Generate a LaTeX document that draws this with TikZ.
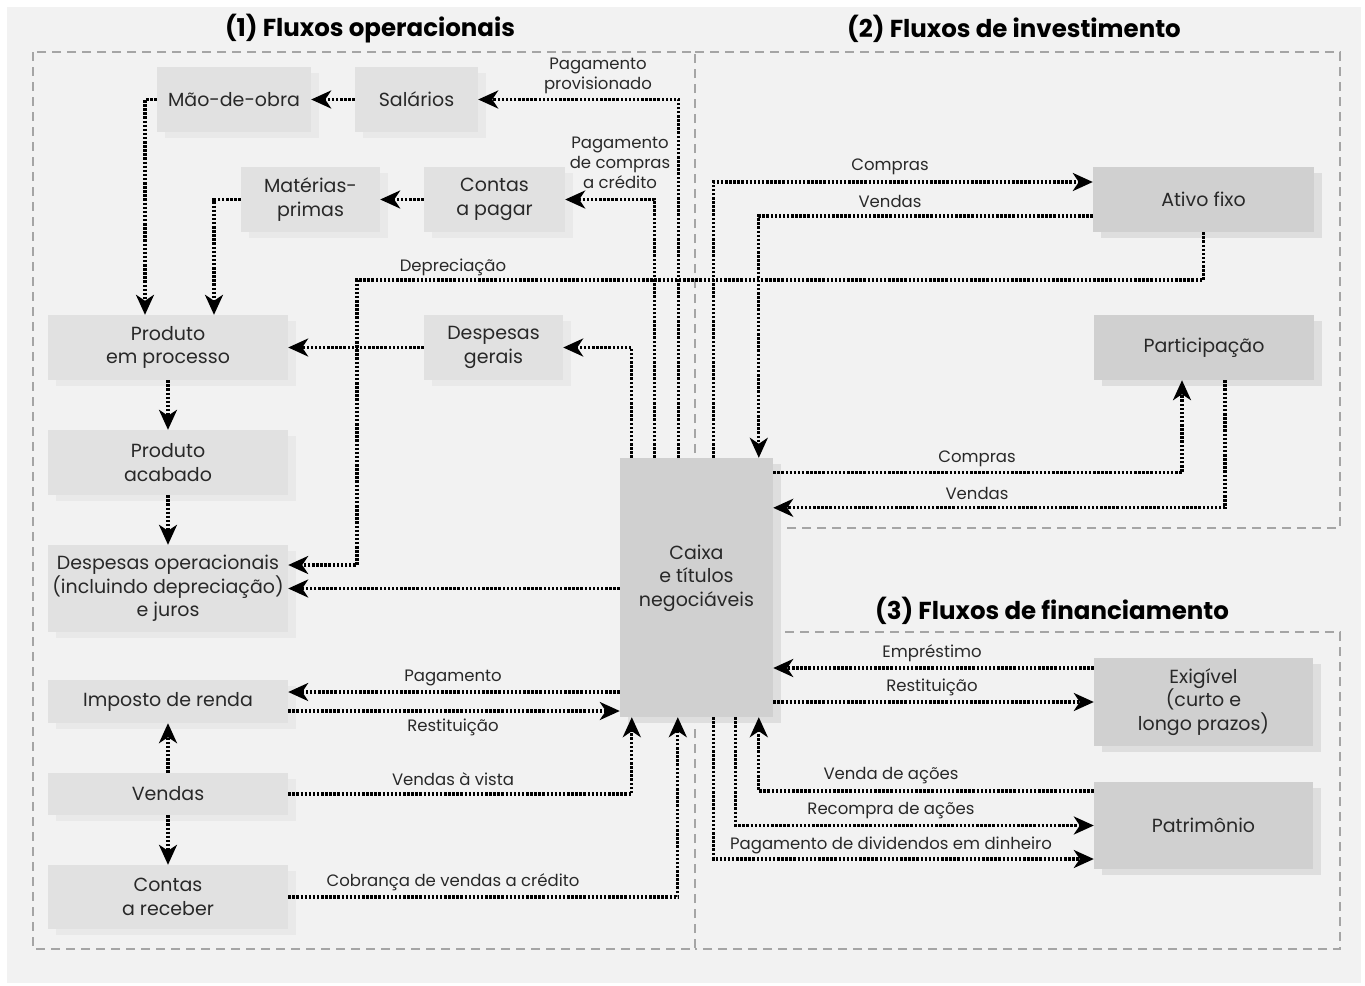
\documentclass[tikz,border=0pt]{standalone}
\usepackage{fontspec}
\setmainfont{Poppins}
\usetikzlibrary{arrows.meta,shadows}

\definecolor{fundo}{RGB}{242,242,242}
\definecolor{cinzaop}{RGB}{225,225,225}
\definecolor{sombraop}{RGB}{233,233,233}
\definecolor{cinzaesc}{RGB}{208,208,208}
\definecolor{sombraesc}{RGB}{222,222,222}
\definecolor{moldura}{RGB}{165,165,165}
\definecolor{texto}{RGB}{40,40,40}

\begin{document}
\begin{tikzpicture}[x=1pt, y=-1pt,
    every node/.style={text=texto, align=center},
    tam/.style 2 args={minimum width=#1pt, minimum height=#2pt},
    bloco/.style={rectangle, fill=cinzaop, inner sep=0pt, font=\fontsize{19}{23.5}\selectfont,
        drop shadow={shadow xshift=8pt, shadow yshift=-6pt, fill=sombraop, opacity=1}},
    blocoesc/.style={rectangle, fill=cinzaesc, inner sep=0pt, font=\fontsize{19}{23.5}\selectfont,
        drop shadow={shadow xshift=8pt, shadow yshift=-6pt, fill=sombraesc, opacity=1}},
    fluxo/.style={draw=black, line width=3.2pt, dash pattern=on 2.5pt off 1.6pt,
        -{Stealth[length=20pt, width=18pt, inset=6pt]}},
    rotulo/.style={font=\fontsize{16.5}{20}\selectfont, inner sep=0pt},
    titulo/.style={font=\bfseries\fontsize{24.5}{28}\selectfont, text=black},
    regiao/.style={draw=moldura, line width=2pt, dash pattern=on 9pt off 6pt}]

    \useasboundingbox (0,0) rectangle (1365,985);
    \fill[fundo] (7,7) rectangle (1361,983);

    % Regioes
    \draw[regiao] (33,52) rectangle (695,949);
    \draw[regiao] (695,52) -- (1340,52) -- (1340,528) -- (695,528);
    \draw[regiao] (695,632) -- (1340,632) -- (1340,949) -- (695,949);

    \node[titulo] (t1) at (370,29) {(1) Fluxos operacionais};
    \node[titulo] (t2) at (1014,29) {(2) Fluxos de investimento};
    \node[titulo] (t3) at (1052,611) {(3) Fluxos de financiamento};

    % Blocos operacionais
    \node[bloco, tam={154}{65}] (mao) at (234,99.5) {Mão-de-obra};
    \node[bloco, tam={123}{65}] (sal) at (416.5,99.5) {Salários};
    \node[bloco, tam={139}{65}] (mat) at (310.5,199.5) {Matérias-\\primas};
    \node[bloco, tam={141}{65}] (cpag) at (494.5,199.5) {Contas\\a pagar};
    \node[bloco, tam={240}{65}] (proc) at (168,347.5) {Produto\\em processo};
    \node[bloco, tam={139}{65}] (dger) at (493.5,347.5) {Despesas\\gerais};
    \node[bloco, tam={240}{65}] (acab) at (168,462.5) {Produto\\acabado};
    \node[bloco, tam={240}{87}] (dop) at (168,588.5) {Despesas operacionais\\(incluindo depreciação)\\e juros};
    \node[bloco, tam={240}{43}] (ir) at (168,701.5) {Imposto de renda};
    \node[bloco, tam={240}{42}] (vend) at (168,794) {Vendas};
    \node[bloco, tam={240}{64}] (crec) at (168,897) {Contas\\a receber};

    % Caixa e blocos de investimento / financiamento
    \node[blocoesc, tam={153}{259}] (caixa) at (696.5,587.5) {};
    \node[inner sep=0pt, font=\fontsize{19}{23.5}\selectfont] (caixatxt) at (696.5,578) {Caixa\\e títulos\\negociáveis};
    \node[blocoesc, tam={221}{65}] (ativo) at (1203.5,199.5) {Ativo fixo};
    \node[blocoesc, tam={220}{65}] (part) at (1204,347.5) {Participação};
    \node[blocoesc, tam={219}{88}] (exig) at (1203.5,702) {Exigível\\(curto e\\longo prazos)};
    \node[blocoesc, tam={219}{87}] (patr) at (1203.5,825.5) {Patrimônio};

    % Fluxos operacionais
    \draw[fluxo] (sal.west) -- (mao.east);
    \draw[fluxo] ([xshift=59pt]caixa.north west) |- (sal.east);
    \draw[fluxo] (mao.west) -| ([xshift=-23pt]proc.north);
    \draw[fluxo] (cpag.west) -- (mat.east);
    \draw[fluxo] ([xshift=35pt]caixa.north west) |- (cpag.east);
    \draw[fluxo] (mat.west) -| ([xshift=46pt]proc.north);
    \draw[fluxo] (dger.west) -- (proc.east);
    \draw[fluxo] ([xshift=12pt]caixa.north west) |- (dger.east);
    \draw[fluxo] (proc.south) -- (acab.north);
    \draw[fluxo] (acab.south) -- (dop.north);
    \coordinate (dep) at (357,280);
    \draw[fluxo] (ativo.south) |- (dep) |- ([yshift=23.5pt]dop.east);
    \draw[fluxo] (caixa.west |- dop.east) -- (dop.east);
    \draw[fluxo] ([yshift=9.5pt]ir.east -| caixa.west) -- ([yshift=9.5pt]ir.east);
    \draw[fluxo] ([yshift=-9.5pt]ir.east) -- ([yshift=-9.5pt]ir.east -| caixa.west);
    \draw[fluxo] (vend.north) -- (ir.south);
    \draw[fluxo] (vend.south) -- (crec.north);
    \draw[fluxo] (vend.east) -| ([xshift=12pt]caixa.south west);
    \draw[fluxo] (crec.east) -| ([xshift=58pt]caixa.south west);

    % Fluxos de investimento
    \draw[fluxo] ([xshift=94pt]caixa.north west) |- ([yshift=17.5pt]ativo.west);
    \draw[fluxo] ([yshift=-16.5pt]ativo.west) -| ([xshift=139pt]caixa.north west);
    \draw[fluxo] ([yshift=-15pt]caixa.north east) -| ([xshift=-22pt]part.south);
    \draw[fluxo] ([xshift=21pt]part.south) |- ([yshift=-50pt]caixa.north east);

    % Fluxos de financiamento
    \draw[fluxo] ([yshift=34pt]exig.west) -- ([yshift=34pt]exig.west -| caixa.east);
    \draw[fluxo] (exig.west -| caixa.east) -- (exig.west);
    \draw[fluxo] ([yshift=34.5pt]patr.west) -| ([xshift=139pt]caixa.south west);
    \draw[fluxo] ([xshift=116pt]caixa.south west) |- (patr.west);
    \draw[fluxo] ([xshift=94pt]caixa.south west) |- ([yshift=-33.5pt]patr.west);

    % Rotulos
    \node[rotulo] (lprov) at (598,76) {Pagamento\\provisionado};
    \node[rotulo] (lcred) at (620,163) {Pagamento\\de compras\\a crédito};
    \node[rotulo] (ldep) at (453,267) {Depreciação};
    \node[rotulo] (lpag) at (453,678) {Pagamento};
    \node[rotulo] (lrest) at (453,727) {Restituição};
    \node[rotulo] (lvista) at (453,779) {Vendas à vista};
    \node[rotulo] (lcobr) at (453,882) {Cobrança de vendas a crédito};
    \node[rotulo] (lcompa) at (890,167) {Compras};
    \node[rotulo] (lvenda) at (890,201) {Vendas};
    \node[rotulo] (lcompp) at (977,459) {Compras};
    \node[rotulo] (lvendp) at (977,493) {Vendas};
    \node[rotulo] (lempr) at (932,653) {Empréstimo};
    \node[rotulo] (lrestf) at (932,687) {Restituição};
    \node[rotulo] (lvacoes) at (891,776) {Venda de ações};
    \node[rotulo] (lrecomp) at (891,811) {Recompra de ações};
    \node[rotulo] (ldiv) at (891,845) {Pagamento de dividendos em dinheiro};
\end{tikzpicture}
\end{document}
